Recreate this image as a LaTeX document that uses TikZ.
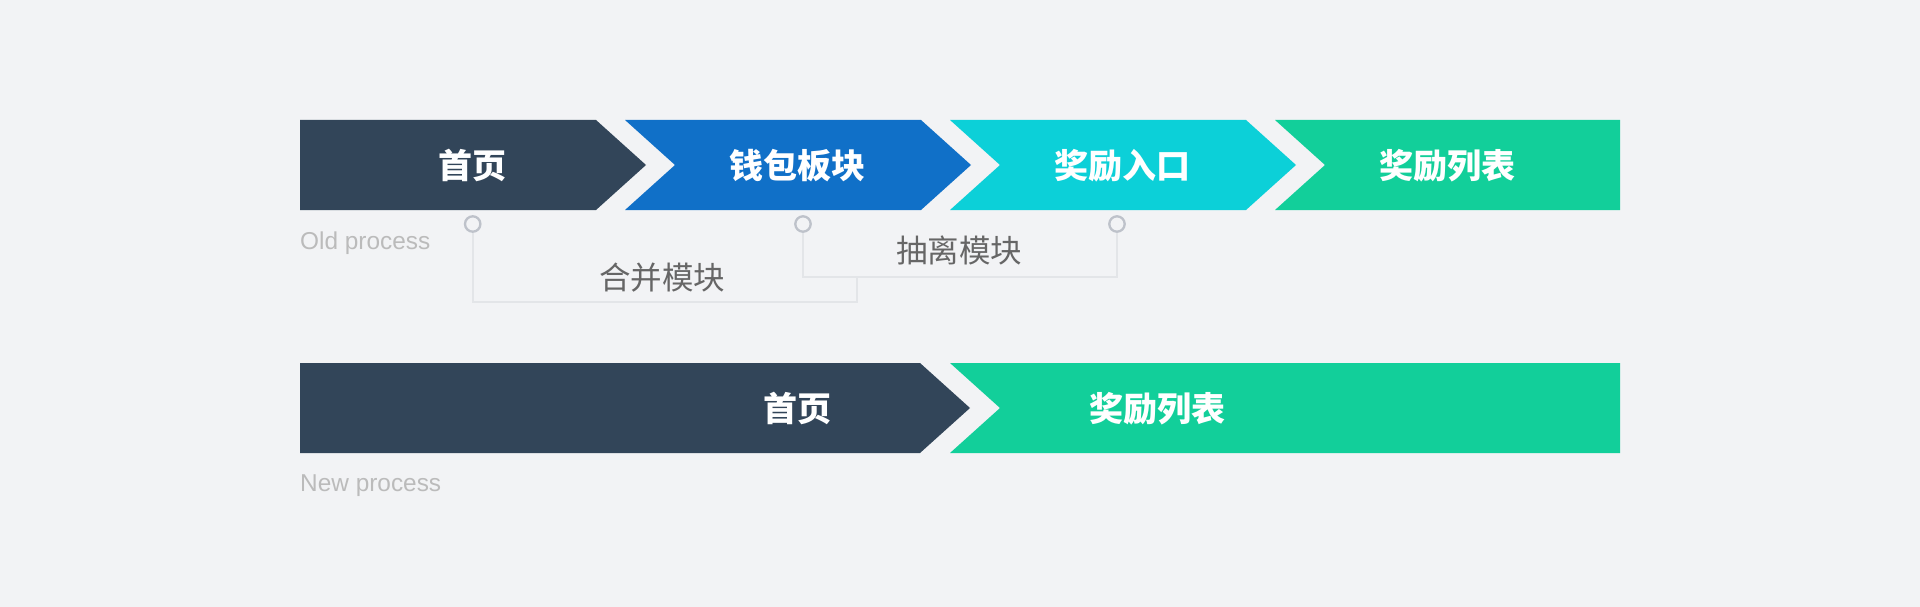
\documentclass[tikz,border=0pt]{standalone}
\usepackage{fontspec}
\setmainfont{Liberation Sans}
\newfontfamily\cjk{Noto Sans CJK SC}
\usepackage{xcolor}
\usetikzlibrary{calc}
\definecolor{bg}{HTML}{F2F3F5}
\definecolor{cdark}{HTML}{324559}
\definecolor{cblue}{HTML}{1070C8}
\definecolor{ccyan}{HTML}{0CD0D8}
\definecolor{cgreen}{HTML}{12CF9A}
\definecolor{cline}{HTML}{E3E5E8}
\definecolor{cring}{HTML}{BEC2CA}
\definecolor{ctext}{HTML}{666666}
\definecolor{cproc}{HTML}{BBBBBB}

\begin{document}
\begin{tikzpicture}[x=1pt,y=-1pt]
		\tikzset{lab/.style={text=white,font=\cjk\bfseries\fontsize{34}{40}\selectfont},
			note/.style={text=ctext,font=\cjk\fontsize{31.5}{36}\selectfont},
			proc/.style={text=cproc,font=\fontsize{24.4}{28}\selectfont,anchor=west,inner sep=0pt},
			dot/.style={circle,draw=cring,fill=bg,line width=2.3pt,inner sep=0pt,minimum size=15.4pt},
			link/.style={draw=cline,line width=2pt}}
		\fill[bg] (0,0) rectangle (1920,607);
		\useasboundingbox (0,0) rectangle (1920,607);
		
		\fill[cdark] (300,120) -- (596,120) -- (646,165) -- (596,210) -- (300,210) -- cycle;
		\foreach \l/\c in {625/cblue,950/ccyan}
		\fill[\c] (\l,120) -- ++(296,0) -- ++(50,45) -- ++(-50,45) -- ++(-296,0) -- ++(50,-45) -- cycle;
		\fill[cgreen] (1275,120) -- (1620,120) -- (1620,210) -- (1275,210) -- (1325,165) -- cycle;
		
		\node[lab] (home) at (472.5,165.5) {首页};
		\node[lab] (wallet) at (797.5,165.5) {钱包板块};
		\node[lab] (entry) at (1122.5,165.5) {奖励入口};
		\node[lab] (list) at (1447.5,165.5) {奖励列表};
		\node[proc] (old) at (300,243.5) {Old process};
		
		\coordinate (m1) at (857,277);
		\coordinate (b1) at (857,302);
		\node[dot] (p1) at (472.7,224) {};
		\node[dot] (p2) at (803,224) {};
		\node[dot] (p3) at (1117,224) {};
		\draw[link] (p1) |- (b1) -- (m1);
		\draw[link] (p2) |- (m1) -| (p3);
		\node[note] (merge) at (662,277.5) {合并模块};
		\node[note] (split) at (959,250) {抽离模块};
		
		\fill[cdark] (300,363) -- (920,363) -- (970,408) -- (920,453) -- (300,453) -- cycle;
		\fill[cgreen] (950,363) -- (1620,363) -- (1620,453) -- (950,453) -- (1000,408) -- cycle;
		\node[lab] (home2) at (797,408.5) {首页};
		\node[lab] (list2) at (1157,408.5) {奖励列表};
		\node[proc] (new) at (300,485.5) {New process};
\end{tikzpicture}
\end{document}
